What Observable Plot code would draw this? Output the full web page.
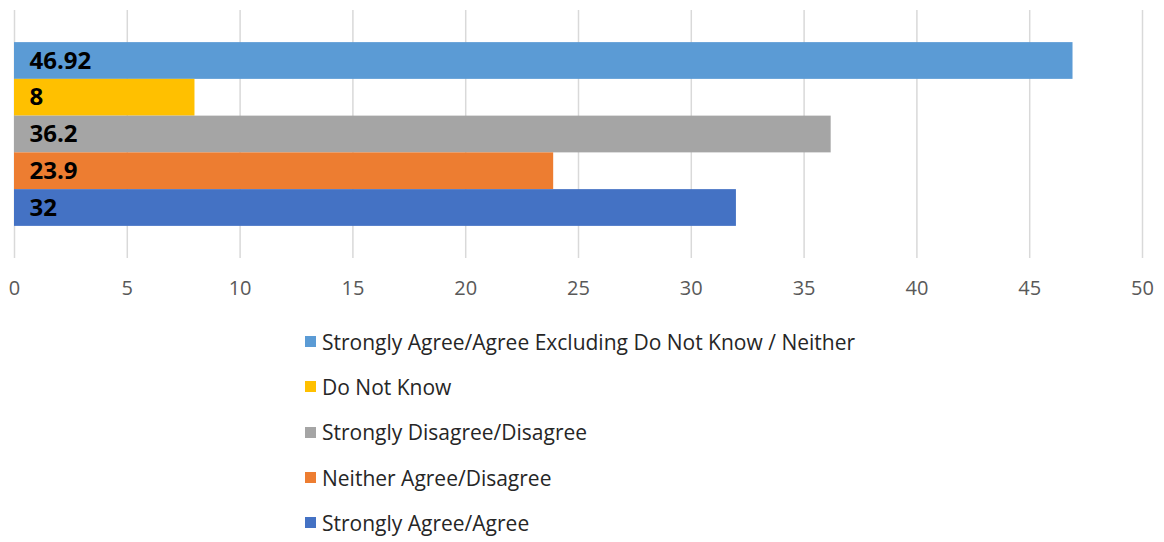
<!DOCTYPE html>
<html>
<head>
<meta charset="utf-8">
<script src="https://cdn.jsdelivr.net/npm/d3@7"></script>
<script src="https://cdn.jsdelivr.net/npm/@observablehq/plot@0.6"></script>
<style>
  body { margin: 0; background: #fff; font-family: "Open Sans", sans-serif; }
  #legend { margin-top: 9px; padding-left: 305px; }
  .item { display: flex; align-items: center; height: 45.3px; font-size: 21px; color: #262626; white-space: nowrap; }
  .sw { width: 11px; height: 11px; margin-right: 6px; flex: none; }
</style>
</head>
<body>
<div id="chart"></div>
<div id="legend"></div>
<script>
const categories = [
  "Strongly Agree/Agree Excluding Do Not Know / Neither",
  "Do Not Know",
  "Strongly Disagree/Disagree",
  "Neither Agree/Disagree",
  "Strongly Agree/Agree"
];
const values = [46.92, 8, 36.2, 23.9, 32];
const colors = ["#5B9BD5", "#FFC000", "#A5A5A5", "#ED7D31", "#4472C4"];
const xTicks = [0, 5, 10, 15, 20, 25, 30, 35, 40, 45, 50];

const data = categories.map((c, i) => ({category: c, value: values[i], color: colors[i]}));

const plot = Plot.plot({
  width: 1164,
  height: 310,
  marginTop: 10,
  marginBottom: 52,
  marginLeft: 14,
  marginRight: 22,
  style: {fontFamily: "'Open Sans', sans-serif", background: "#fff"},
  x: {domain: [0, 50], ticks: xTicks, label: null},
  y: {domain: categories, paddingInner: 0, paddingOuter: 0.874, round: false, axis: null},
  color: {domain: categories, range: colors},
  marks: [
    Plot.ruleX(xTicks, {stroke: "#d9d9d9", strokeWidth: 1.5, strokeOpacity: 1}),
    Plot.barX(data, {x: "value", y: "category", fill: "category"}),
    Plot.text(data, {x: 0, y: "category", text: d => String(d.value), textAnchor: "start", dx: 15,
      fontWeight: "bold", fontSize: 24, fill: "#000"}),
    Plot.axisX({ticks: xTicks, tickSize: 0, tickPadding: 22, fontSize: 20, color: "#595959", label: null, tickFormat: d => String(d)})
  ]
});
document.getElementById("chart").appendChild(plot);

const legend = document.getElementById("legend");
categories.forEach((c, i) => {
  const row = document.createElement("div");
  row.className = "item";
  const sw = document.createElement("span");
  sw.className = "sw";
  sw.style.background = colors[i];
  const tx = document.createElement("span");
  tx.textContent = c;
  row.appendChild(sw);
  row.appendChild(tx);
  legend.appendChild(row);
});
</script>
</body>
</html>
